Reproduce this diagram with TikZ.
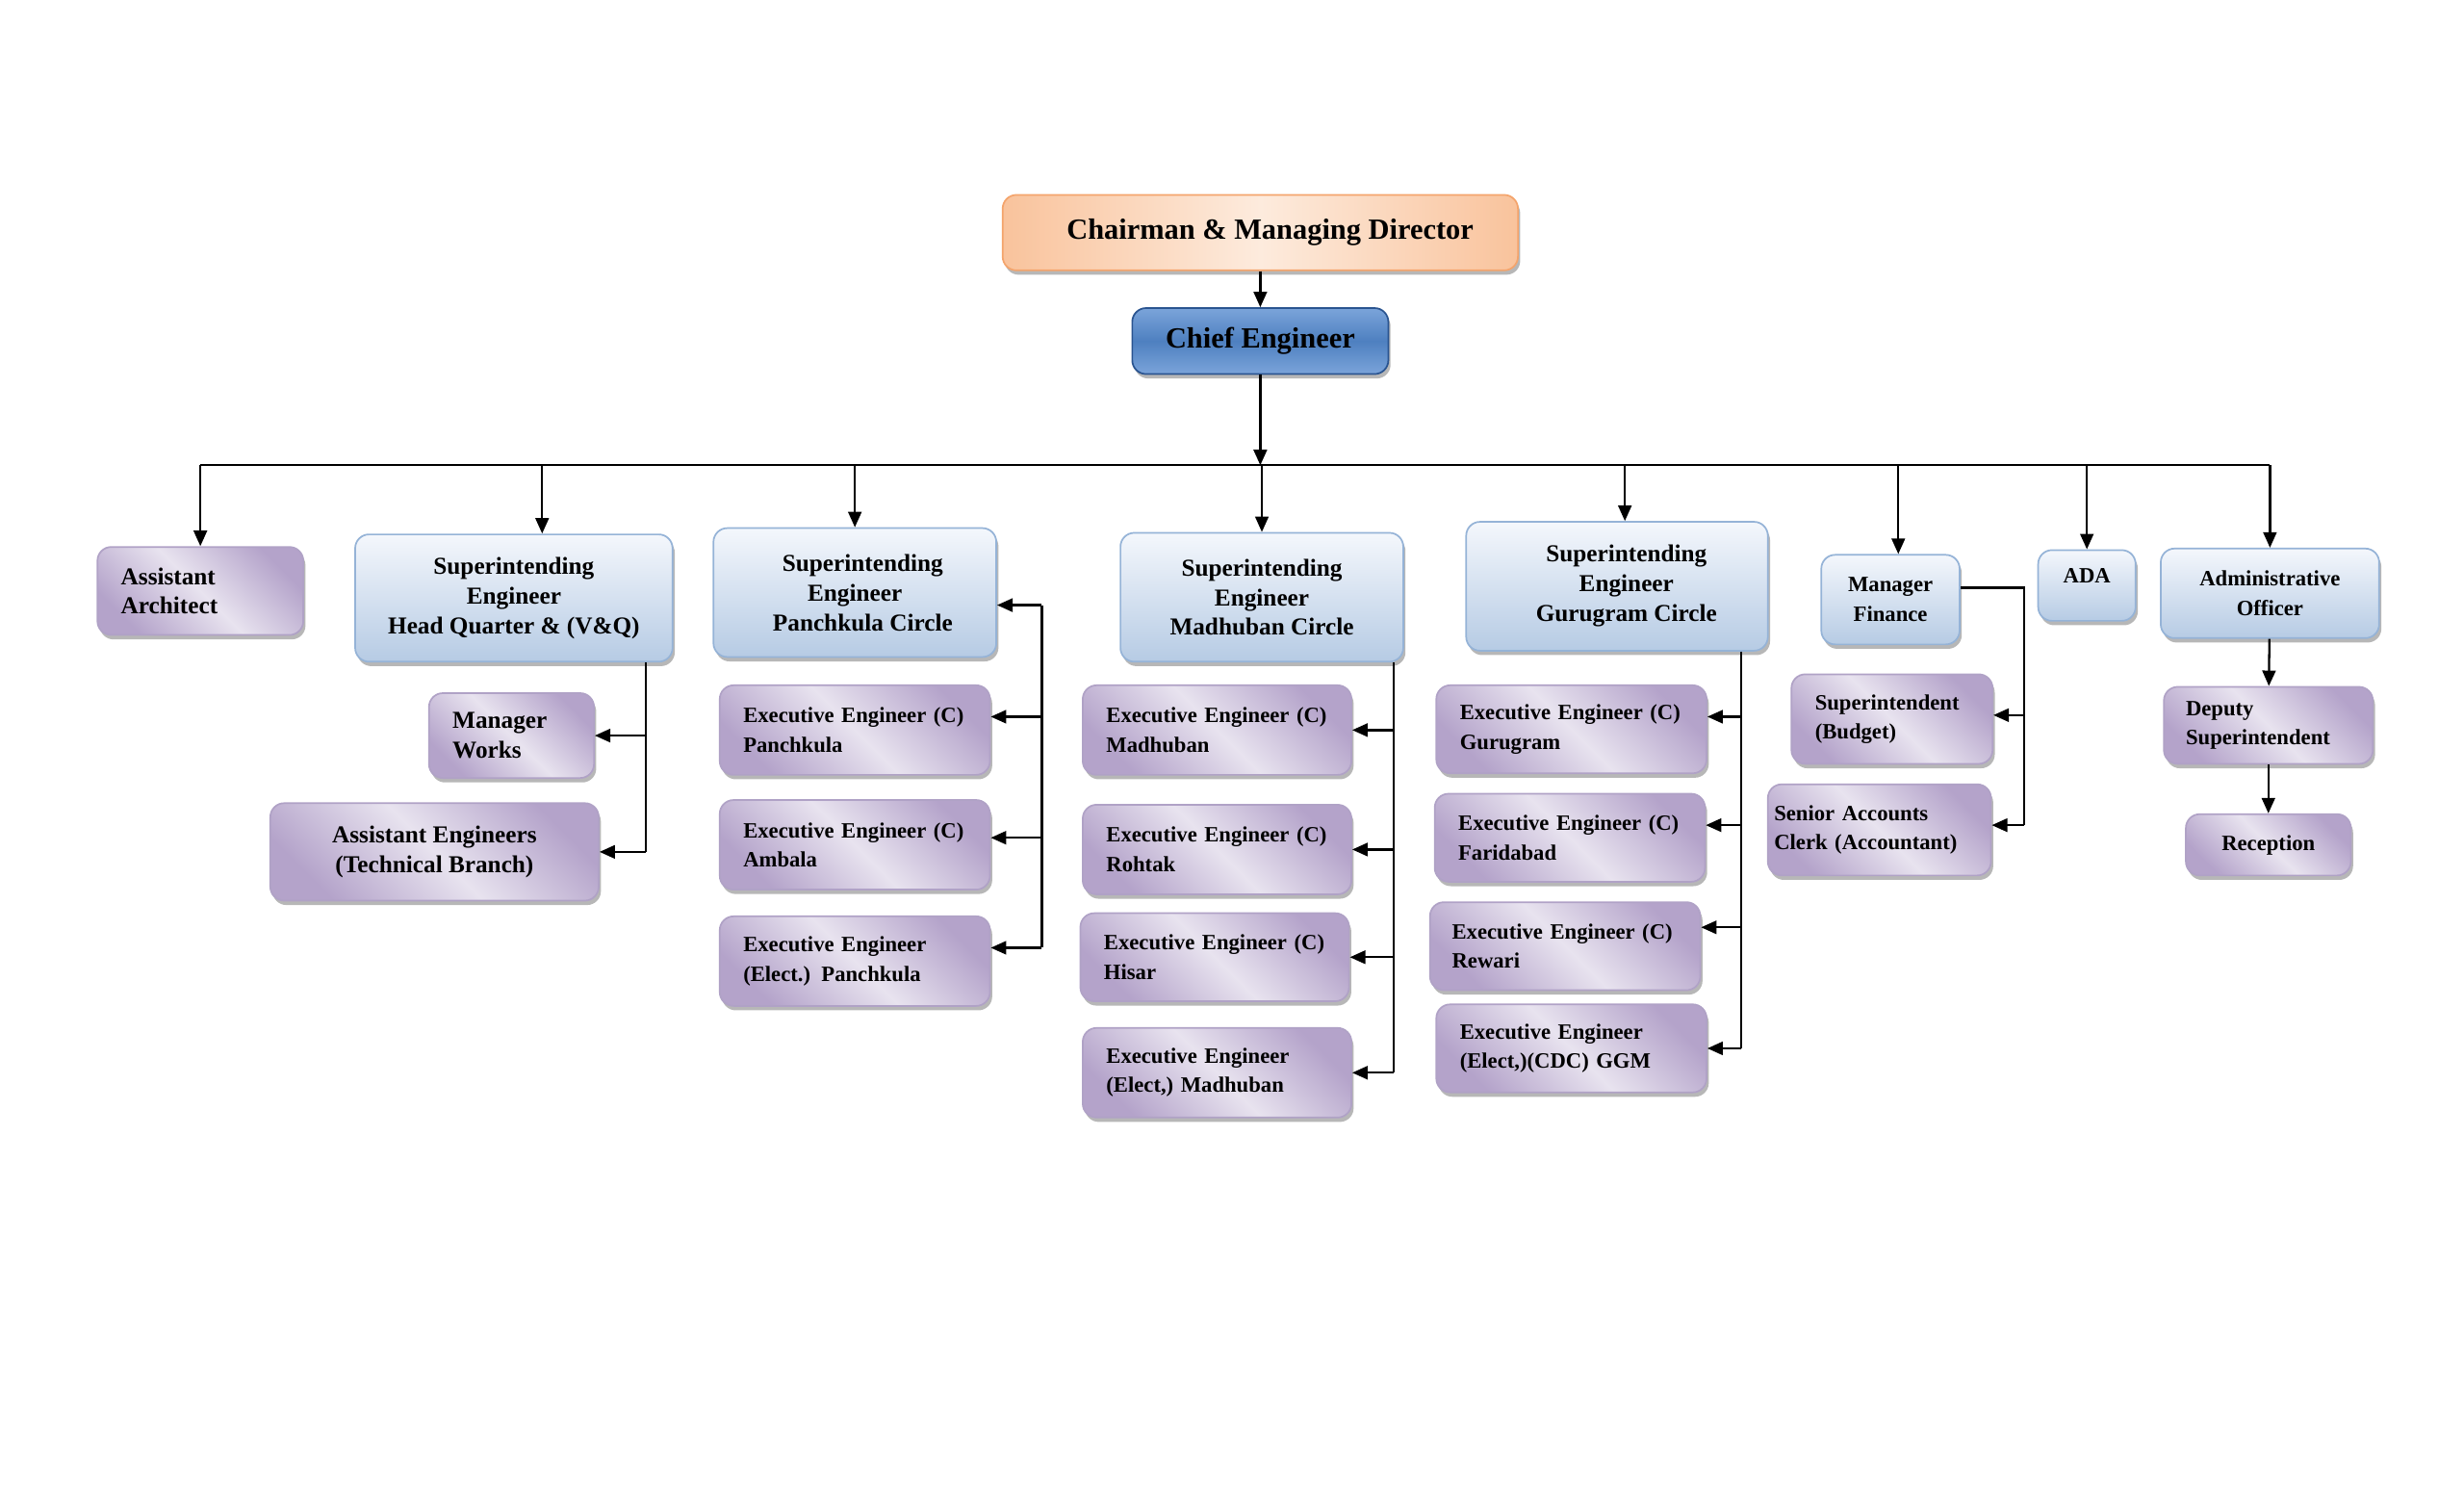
\documentclass[tikz,border=0pt]{standalone}
\usepackage{fontspec}
\setmainfont{Liberation Serif}
\usetikzlibrary{arrows.meta,shadows}
\definecolor{chairedge}{HTML}{F4A46C}
\definecolor{chairdark}{HTML}{F9C39C}
\definecolor{chairlight}{HTML}{FDEBDD}
\definecolor{chiefedge}{HTML}{2A5490}
\definecolor{chieftop}{HTML}{7BA4DA}
\definecolor{chiefmid}{HTML}{4E80C0}
\definecolor{seedge}{HTML}{95B3D7}
\definecolor{setop}{HTML}{F4F7FC}
\definecolor{sebottom}{HTML}{B6CBE4}
\definecolor{lilacedge}{HTML}{B0A2C6}
\definecolor{lilacdark}{HTML}{B4A3CA}
\definecolor{lilaclight}{HTML}{E8E3EF}

\begin{document}
\begin{tikzpicture}[
    x=0.02cm, y=-0.02cm,
    >={Triangle[length=5.6pt, width=4.8pt]},
    bigtext/.style={font=\fontsize{10.6}{12.5}\selectfont\bfseries},
    midtext/.style={font=\fontsize{8.8}{10.8}\selectfont\bfseries},
    smalltext/.style={font=\fontsize{7.9}{10.6}\selectfont\bfseries},
    box/.style={rounded corners=5pt, line width=0.6pt, inner sep=0pt, align=center,
        drop shadow={shadow xshift=0.8pt, shadow yshift=-1.6pt, fill=black!40, opacity=0.7}},
    lefttext/.style={align=left, inner xsep=0.3cm},
    chairbox/.style={box, bigtext, draw=chairedge, left color=chairdark, right color=chairdark, middle color=chairlight},
    chiefbox/.style={box, bigtext, draw=chiefedge, top color=chieftop, bottom color=chieftop, middle color=chiefmid},
    sebox/.style={box, midtext, draw=seedge, top color=setop, bottom color=sebottom},
    eebox/.style={box, smalltext, draw=lilacedge, left color=lilacdark, right color=lilacdark, middle color=lilaclight, shading angle=135},
    link/.style={draw=black, line width=0.8pt},
    arrow/.style={->, link},
]
    \useasboundingbox (0,0) rectangle (1568,952);

    % Top of the chart
    \node[chairbox, minimum width=6.56cm, minimum height=0.96cm] (chair) at (802,148) {\hspace*{0.25cm}Chairman \& Managing Director};
    \node[chiefbox, minimum width=3.26cm, minimum height=0.84cm] (chief) at (802,217) {Chief Engineer};
    \coordinate (bus) at (802,296);

    % Second level
    \node[eebox, midtext, lefttext, text width=2.02cm, minimum height=1.12cm] (aa) at (127.5,376) {Assistant\\Architect};
    \node[sebox, minimum width=4.04cm, minimum height=1.62cm] (hq) at (327,380.5) {Superintending\\Engineer\\Head Quarter \& (V\&Q)};
    \node[sebox, minimum width=3.6cm, minimum height=1.64cm] (sep) at (544,377) {\hspace*{0.2cm}Superintending\\Engineer\\\hspace*{0.2cm}Panchkula Circle};
    \node[sebox, minimum width=3.6cm, minimum height=1.64cm] (sem) at (803,380) {Superintending\\Engineer\\Madhuban Circle};
    \node[sebox, minimum width=3.84cm, minimum height=1.64cm] (seg) at (1029,373) {\hspace*{0.24cm}Superintending\\\hspace*{0.24cm}Engineer\\\hspace*{0.24cm}Gurugram Circle};
    \node[sebox, smalltext, minimum width=1.76cm, minimum height=1.14cm] (mf) at (1203,381.5) {Manager\\Finance};
    \node[sebox, smalltext, text depth=0.24cm, minimum width=1.24cm, minimum height=0.9cm] (ada) at (1328,372.5) {ADA};
    \node[sebox, smalltext, minimum width=2.78cm, minimum height=1.14cm] (ao) at (1444.5,377.5) {Administrative\\Officer};

    % Head Quarter
    \node[eebox, midtext, lefttext, text width=1.5cm, minimum height=1.08cm] (mw) at (325.5,468) {Manager\\Works};
    \node[eebox, midtext, minimum width=4.18cm, minimum height=1.24cm] (ae) at (276.5,542) {Assistant Engineers\\(Technical Branch)};

    % Panchkula Circle
    \node[eebox, lefttext, text width=2.84cm, minimum height=1.14cm] (eepk) at (544,464.5) {Executive Engineer (C)\\Panchkula};
    \node[eebox, lefttext, text width=2.84cm, minimum height=1.14cm] (eea) at (544,537.5) {Executive Engineer (C)\\Ambala};
    \node[eebox, lefttext, text width=2.84cm, minimum height=1.14cm] (eeep) at (544,611.5) {Executive Engineer\\(Elect.) Panchkula};

    % Madhuban Circle
    \node[eebox, lefttext, text width=2.82cm, minimum height=1.14cm] (eem) at (774.5,464.5) {Executive Engineer (C)\\Madhuban};
    \node[eebox, lefttext, text width=2.82cm, minimum height=1.14cm] (eer) at (774.5,540.5) {Executive Engineer (C)\\Rohtak};
    \node[eebox, lefttext, text width=2.82cm, minimum height=1.12cm] (eeh) at (773,609) {Executive Engineer (C)\\Hisar};
    \node[eebox, lefttext, text width=2.82cm, minimum height=1.14cm] (eeem) at (774.5,682.5) {Executive Engineer\\(Elect,) Madhuban};

    % Gurugram Circle
    \node[eebox, lefttext, text width=2.84cm, minimum height=1.12cm] (eeg) at (1000,464) {Executive Engineer (C)\\Gurugram};
    \node[eebox, lefttext, text width=2.84cm, minimum height=1.12cm] (eef) at (999,533) {Executive Engineer (C)\\Faridabad};
    \node[eebox, lefttext, inner xsep=0.28cm, text width=2.88cm, minimum height=1.12cm] (eerw) at (996,602) {Executive Engineer (C)\\Rewari};
    \node[eebox, lefttext, text width=2.84cm, minimum height=1.12cm] (eeggm) at (1000,667) {Executive Engineer\\(Elect,)(CDC) GGM};

    % Finance and administration
    \node[eebox, lefttext, text width=1.96cm, minimum height=1.14cm] (sb) at (1204,457.5) {Superintendent\\(Budget)};
    \node[eebox, lefttext, inner xsep=0.08cm, text width=2.68cm, minimum height=1.16cm] (sac) at (1196,528) {Senior Accounts\\Clerk (Accountant)};
    \node[eebox, lefttext, inner xsep=0.28cm, text width=2.1cm, minimum height=0.98cm] (ds) at (1443.5,461.5) {Deputy\\Superintendent};
    \node[eebox, minimum width=2.1cm, minimum height=0.78cm] (rec) at (1443.5,537.5) {Reception};

    % Main connectors
    \draw[arrow] (chair) -- (chief);
    \draw[arrow] (chief) -- (bus);
    \draw[link] (aa.north |- bus) -- (ao.north |- bus);
    \foreach \n/\dx in {aa/0, hq/18, sep/0, sem/0, seg/5, mf/5, ada/0, ao/0}
        \draw[arrow] ([xshift=\dx*0.02cm]\n.north |- bus) -- ([xshift=\dx*0.02cm]\n.north);

    % Head Quarter branch
    \coordinate (hqtrunk) at (411,0);
    \draw[link] (hq.south -| hqtrunk) -- (ae.east -| hqtrunk);
    \draw[arrow] (mw.east -| hqtrunk) -- (mw.east);
    \draw[arrow] (ae.east -| hqtrunk) -- (ae.east);

    % Panchkula branch
    \coordinate (pktrunk) at (663,0);
    \draw[link] ([yshift=-0.16cm]sep.east -| pktrunk) -- ([yshift=0.17cm]eeep.east -| pktrunk);
    \foreach \n/\dy in {sep/-8, eepk/8.5, eea/4.5, eeep/8.5}
        \draw[arrow] ([yshift=\dy*0.02cm]\n.east -| pktrunk) -- ([yshift=\dy*0.02cm]\n.east);

    % Madhuban branch
    \coordinate (mdtrunk) at (887,0);
    \draw[link] (sem.south -| mdtrunk) -- (eeem.east -| mdtrunk);
    \foreach \n in {eem, eer, eeh, eeem}
        \draw[arrow] (\n.east -| mdtrunk) -- (\n.east);

    % Gurugram branch
    \coordinate (ggtrunk) at (1108,0);
    \draw[link] (seg.south -| ggtrunk) -- (eeggm.east -| ggtrunk);
    \foreach \n/\dy in {eeg/8, eef/8, eerw/12, eeggm/0}
        \draw[arrow] ([yshift=\dy*0.02cm]\n.east -| ggtrunk) -- ([yshift=\dy*0.02cm]\n.east);

    % Finance branch
    \coordinate (fintrunk) at (1288,0);
    \draw[link] ([yshift=0.15cm]mf.east) -| ([yshift=0.06cm]sac.east -| fintrunk);
    \foreach \n/\dy in {sb/2.5, sac/3}
        \draw[arrow] ([yshift=\dy*0.02cm]\n.east -| fintrunk) -- ([yshift=\dy*0.02cm]\n.east);

    % Administration branch
    \draw[arrow] (ao) -- (ds);
    \draw[arrow] (ds) -- (rec);

\end{tikzpicture}
\end{document}
